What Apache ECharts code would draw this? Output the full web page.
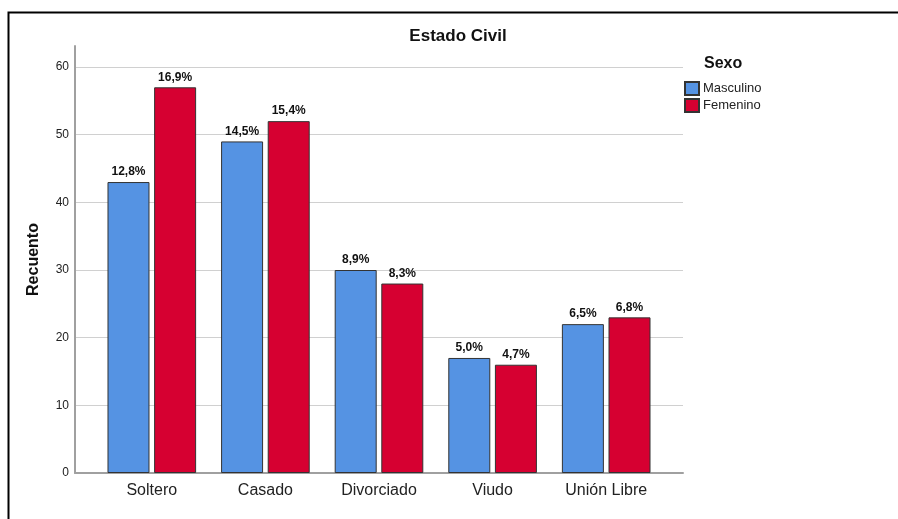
<!DOCTYPE html>
<html>
<head>
<meta charset="utf-8">
<script src="https://cdn.jsdelivr.net/npm/echarts@6/dist/echarts.min.js"></script>
<style>html,body{margin:0;padding:0;background:#fff}#c{width:898px;height:519px}</style>
</head>
<body>
<div id="c"></div>
<script>
const categories = ['Soltero', 'Casado', 'Divorciado', 'Viudo', 'Unión Libre'];
const masculino = [43, 49, 30, 17, 22];
const femenino = [57, 52, 28, 16, 23];
const masculinoPct = ['12,8%', '14,5%', '8,9%', '5,0%', '6,5%'];
const femeninoPct = ['16,9%', '15,4%', '8,3%', '4,7%', '6,8%'];
const yTicks = [0, 10, 20, 30, 40, 50, 60];

const font = 'Liberation Sans, Arial, sans-serif';
const chart = echarts.init(document.getElementById('c'), null, {renderer: 'canvas'});

const labelStyle = (pcts) => ({
  show: true, position: 'top', distance: 4,
  formatter: p => pcts[p.dataIndex],
  fontFamily: font, fontSize: 12, fontWeight: 'bold', color: '#111'
});

chart.setOption({
  animation: false,
  backgroundColor: '#fff',
  graphic: [{
    type: 'rect', left: 6, top: 10, silent: true,
    shape: {width: 940, height: 560},
    style: {fill: 'none', stroke: '#000', lineWidth: 2}
  }],
  title: [
    {text: 'Estado Civil', left: 458, textAlign: 'center', top: 28, padding: 0,
     textStyle: {fontFamily: font, fontSize: 17, fontWeight: 'bold', color: '#111'}},
    {text: 'Sexo', left: 704, top: 56, padding: 0,
     textStyle: {fontFamily: font, fontSize: 16, fontWeight: 'bold', color: '#111'}}
  ],
  legend: {
    orient: 'vertical', left: 684, top: 81, padding: 0, itemWidth: 14, itemHeight: 13, itemGap: 2,
    icon: 'rect',
    textStyle: {fontFamily: font, fontSize: 13, lineHeight: 13, color: '#222', padding: [0, 0, 0, -1]},
    data: ['Masculino', 'Femenino']
  },
  grid: [
    {left: 75, right: 215, top: 46, bottom: 46},
    {left: 75, right: 215, top: 67, bottom: 46},
    {left: 95, right: 235, top: 67, bottom: 46}
  ],
  xAxis: [
    {gridIndex: 0, type: 'value', min: 0, max: 1, axisLabel: {show: false}, axisTick: {show: false},
     splitLine: {show: false}, axisLine: {show: true, lineStyle: {color: '#a0a0a0', width: 2}}},
    {gridIndex: 1, type: 'value', min: 0, max: 1, show: false},
    {gridIndex: 2, type: 'category', data: categories,
     axisLine: {show: false}, axisTick: {show: false},
     axisLabel: {fontFamily: font, fontSize: 16, color: '#222', margin: 10}}
  ],
  yAxis: [
    {gridIndex: 0, type: 'value', min: 0, max: 63.2,
     name: 'Recuento', nameLocation: 'middle', nameRotate: 90, nameGap: 33,
     nameTextStyle: {fontFamily: font, fontSize: 16, fontWeight: 'bold', color: '#111'},
     axisLabel: {show: false}, axisTick: {show: false}, splitLine: {show: false},
     axisLine: {show: true, lineStyle: {color: '#a0a0a0', width: 2}}},
    {gridIndex: 1, type: 'value', min: 0, max: 60, interval: 10,
     axisLine: {show: false}, axisTick: {show: false},
     axisLabel: {fontFamily: font, fontSize: 12, color: '#222', margin: 6,
       formatter: v => (yTicks.indexOf(v) >= 0 ? String(v) : '')},
     splitLine: {show: true, lineStyle: {color: '#d0d0d0', width: 1}}},
    {gridIndex: 2, type: 'value', min: 0, max: 60, show: false}
  ],
  series: [
    {name: 'Masculino', type: 'bar', xAxisIndex: 2, yAxisIndex: 2, data: masculino,
     barWidth: 42, barGap: '11%',
     itemStyle: {color: '#5593e3', borderColor: '#333', borderWidth: 1},
     label: labelStyle(masculinoPct)},
    {name: 'Femenino', type: 'bar', xAxisIndex: 2, yAxisIndex: 2, data: femenino,
     barWidth: 42, barGap: '11%',
     itemStyle: {color: '#d60031', borderColor: '#333', borderWidth: 1},
     label: labelStyle(femeninoPct)}
  ]
});
</script>
</body>
</html>
